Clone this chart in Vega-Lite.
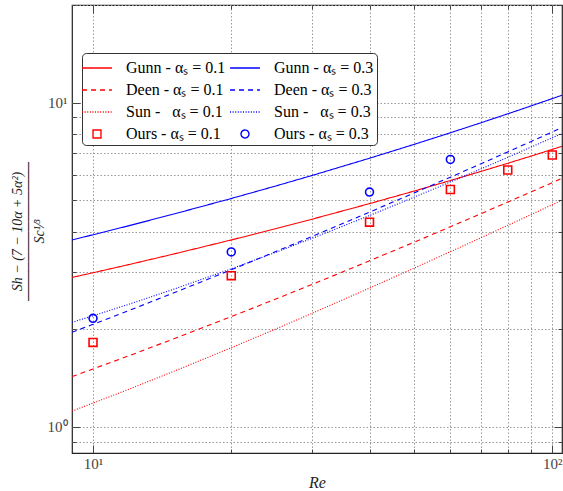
{
  "$schema": "https://vega.github.io/schema/vega-lite/v6.json",
  "width": 490,
  "height": 448,
  "autosize": {"type": "none"},
  "padding": {"left": 72, "top": 5, "right": 1, "bottom": 38},
  "background": "#ffffff",
  "config": {
    "view": {"stroke": "#222", "strokeWidth": 1.2},
    "font": "Liberation Serif",
    "legend": {
      "orient": "none", "legendX": 10, "legendY": 48, "columns": 2,
      "symbolSize": 484, "symbolStrokeWidth": 1.4,
      "labelFont": "Liberation Serif", "labelFontSize": 16, "labelColor": "#000",
      "labelOffset": 17, "columnPadding": 1, "rowPadding": 2, "padding": 3,
      "strokeColor": "#333", "fillColor": "#fff", "cornerRadius": 4, "labelLimit": 250
    }
  },
  "datasets": {
    "curves": [
      {"s":"Gunn - αₛ = 0.1","Re":9,"v":2.888},{"s":"Gunn - αₛ = 0.1","Re":10,"v":2.986},{"s":"Gunn - αₛ = 0.1","Re":12,"v":3.167},{"s":"Gunn - αₛ = 0.1","Re":15,"v":3.412},{"s":"Gunn - αₛ = 0.1","Re":20,"v":3.769},{"s":"Gunn - αₛ = 0.1","Re":25,"v":4.083},{"s":"Gunn - αₛ = 0.1","Re":30,"v":4.369},{"s":"Gunn - αₛ = 0.1","Re":40,"v":4.879},{"s":"Gunn - αₛ = 0.1","Re":50,"v":5.333},{"s":"Gunn - αₛ = 0.1","Re":60,"v":5.749},{"s":"Gunn - αₛ = 0.1","Re":70,"v":6.135},{"s":"Gunn - αₛ = 0.1","Re":80,"v":6.498},{"s":"Gunn - αₛ = 0.1","Re":90,"v":6.842},{"s":"Gunn - αₛ = 0.1","Re":100,"v":7.172},{"s":"Gunn - αₛ = 0.1","Re":105,"v":7.331},
      {"s":"Gunn - αₛ = 0.3","Re":9,"v":3.769},{"s":"Gunn - αₛ = 0.3","Re":10,"v":3.911},{"s":"Gunn - αₛ = 0.3","Re":12,"v":4.174},{"s":"Gunn - αₛ = 0.3","Re":15,"v":4.532},{"s":"Gunn - αₛ = 0.3","Re":20,"v":5.060},{"s":"Gunn - αₛ = 0.3","Re":25,"v":5.530},{"s":"Gunn - αₛ = 0.3","Re":30,"v":5.960},{"s":"Gunn - αₛ = 0.3","Re":40,"v":6.735},{"s":"Gunn - αₛ = 0.3","Re":50,"v":7.430},{"s":"Gunn - αₛ = 0.3","Re":60,"v":8.070},{"s":"Gunn - αₛ = 0.3","Re":70,"v":8.669},{"s":"Gunn - αₛ = 0.3","Re":80,"v":9.233},{"s":"Gunn - αₛ = 0.3","Re":90,"v":9.771},{"s":"Gunn - αₛ = 0.3","Re":100,"v":10.286},{"s":"Gunn - αₛ = 0.3","Re":105,"v":10.536},
      {"s":"Deen - αₛ = 0.1","Re":9,"v":1.428},{"s":"Deen - αₛ = 0.1","Re":10,"v":1.508},{"s":"Deen - αₛ = 0.1","Re":12,"v":1.658},{"s":"Deen - αₛ = 0.1","Re":15,"v":1.868},{"s":"Deen - αₛ = 0.1","Re":20,"v":2.186},{"s":"Deen - αₛ = 0.1","Re":25,"v":2.478},{"s":"Deen - αₛ = 0.1","Re":30,"v":2.749},{"s":"Deen - αₛ = 0.1","Re":40,"v":3.250},{"s":"Deen - αₛ = 0.1","Re":50,"v":3.709},{"s":"Deen - αₛ = 0.1","Re":60,"v":4.139},{"s":"Deen - αₛ = 0.1","Re":70,"v":4.545},{"s":"Deen - αₛ = 0.1","Re":80,"v":4.932},{"s":"Deen - αₛ = 0.1","Re":90,"v":5.304},{"s":"Deen - αₛ = 0.1","Re":100,"v":5.663},{"s":"Deen - αₛ = 0.1","Re":105,"v":5.838},
      {"s":"Deen - αₛ = 0.3","Re":9,"v":1.956},{"s":"Deen - αₛ = 0.3","Re":10,"v":2.070},{"s":"Deen - αₛ = 0.3","Re":12,"v":2.287},{"s":"Deen - αₛ = 0.3","Re":15,"v":2.589},{"s":"Deen - αₛ = 0.3","Re":20,"v":3.049},{"s":"Deen - αₛ = 0.3","Re":25,"v":3.471},{"s":"Deen - αₛ = 0.3","Re":30,"v":3.865},{"s":"Deen - αₛ = 0.3","Re":40,"v":4.593},{"s":"Deen - αₛ = 0.3","Re":50,"v":5.262},{"s":"Deen - αₛ = 0.3","Re":60,"v":5.888},{"s":"Deen - αₛ = 0.3","Re":70,"v":6.481},{"s":"Deen - αₛ = 0.3","Re":80,"v":7.046},{"s":"Deen - αₛ = 0.3","Re":90,"v":7.590},{"s":"Deen - αₛ = 0.3","Re":100,"v":8.115},{"s":"Deen - αₛ = 0.3","Re":105,"v":8.370},
      {"s":"Sun - \u00a0\u00a0αₛ = 0.1","Re":9,"v":1.118},{"s":"Sun - \u00a0\u00a0αₛ = 0.1","Re":10,"v":1.183},{"s":"Sun - \u00a0\u00a0αₛ = 0.1","Re":12,"v":1.307},{"s":"Sun - \u00a0\u00a0αₛ = 0.1","Re":15,"v":1.483},{"s":"Sun - \u00a0\u00a0αₛ = 0.1","Re":20,"v":1.753},{"s":"Sun - \u00a0\u00a0αₛ = 0.1","Re":25,"v":2.003},{"s":"Sun - \u00a0\u00a0αₛ = 0.1","Re":30,"v":2.239},{"s":"Sun - \u00a0\u00a0αₛ = 0.1","Re":40,"v":2.678},{"s":"Sun - \u00a0\u00a0αₛ = 0.1","Re":50,"v":3.085},{"s":"Sun - \u00a0\u00a0αₛ = 0.1","Re":60,"v":3.468},{"s":"Sun - \u00a0\u00a0αₛ = 0.1","Re":70,"v":3.832},{"s":"Sun - \u00a0\u00a0αₛ = 0.1","Re":80,"v":4.181},{"s":"Sun - \u00a0\u00a0αₛ = 0.1","Re":90,"v":4.517},{"s":"Sun - \u00a0\u00a0αₛ = 0.1","Re":100,"v":4.843},{"s":"Sun - \u00a0\u00a0αₛ = 0.1","Re":105,"v":5.001},
      {"s":"Sun - \u00a0\u00a0αₛ = 0.3","Re":9,"v":2.101},{"s":"Sun - \u00a0\u00a0αₛ = 0.3","Re":10,"v":2.200},{"s":"Sun - \u00a0\u00a0αₛ = 0.3","Re":12,"v":2.390},{"s":"Sun - \u00a0\u00a0αₛ = 0.3","Re":15,"v":2.658},{"s":"Sun - \u00a0\u00a0αₛ = 0.3","Re":20,"v":3.070},{"s":"Sun - \u00a0\u00a0αₛ = 0.3","Re":25,"v":3.453},{"s":"Sun - \u00a0\u00a0αₛ = 0.3","Re":30,"v":3.813},{"s":"Sun - \u00a0\u00a0αₛ = 0.3","Re":40,"v":4.484},{"s":"Sun - \u00a0\u00a0αₛ = 0.3","Re":50,"v":5.105},{"s":"Sun - \u00a0\u00a0αₛ = 0.3","Re":60,"v":5.691},{"s":"Sun - \u00a0\u00a0αₛ = 0.3","Re":70,"v":6.247},{"s":"Sun - \u00a0\u00a0αₛ = 0.3","Re":80,"v":6.780},{"s":"Sun - \u00a0\u00a0αₛ = 0.3","Re":90,"v":7.293},{"s":"Sun - \u00a0\u00a0αₛ = 0.3","Re":100,"v":7.790},{"s":"Sun - \u00a0\u00a0αₛ = 0.3","Re":105,"v":8.032}
    ],
    "ours": [
      {"s":"Ours - αₛ = 0.1","Re":10,"v":1.82},{"s":"Ours - αₛ = 0.1","Re":20,"v":2.925},{"s":"Ours - αₛ = 0.1","Re":40,"v":4.277},{"s":"Ours - αₛ = 0.1","Re":60,"v":5.395},{"s":"Ours - αₛ = 0.1","Re":80,"v":6.194},{"s":"Ours - αₛ = 0.1","Re":100,"v":6.89},
      {"s":"Ours - αₛ = 0.3","Re":10,"v":2.16},{"s":"Ours - αₛ = 0.3","Re":20,"v":3.462},{"s":"Ours - αₛ = 0.3","Re":40,"v":5.297},{"s":"Ours - αₛ = 0.3","Re":60,"v":6.68}
    ]
  },
  "layer": [
    {
      "data": {"name": "curves"},
      "mark": {"type": "line", "strokeWidth": 1.1, "clip": true},
      "encoding": {
        "x": {"field": "Re", "type": "quantitative",
          "scale": {"type": "log", "domain": [9, 105], "nice": false, "zero": false},
          "axis": {"orient": "bottom", "title": "Re", "titleFontStyle": "italic", "titleFont": "Liberation Serif", "titleFontSize": 16, "titleFontWeight": "normal", "titleColor": "#222", "titlePadding": 3,
            "values": [10,20,30,40,50,60,70,80,90,100],
            "labelExpr": "datum.value == 10 ? '10¹' : datum.value == 100 ? '10²' : ''",
            "labelFont": "Liberation Serif", "labelFontSize": 15, "labelColor": "#444", "labelPadding": 11,
            "domain": false, "grid": true, "gridColor": "#999", "gridDash": [1.5, 2], "gridWidth": 1,
            "tickColor": "#444", "tickSize": {"condition": {"test": "datum.value == 10 || datum.value == 100", "value": -8}, "value": -4}}},
        "y": {"field": "v", "type": "quantitative",
          "scale": {"type": "log", "domain": [0.83, 20], "nice": false, "zero": false},
          "axis": {"orient": "left", "title": ["Sh − (7 − 10α + 5α²)", "──────────────", "Sc¹⁄³"],
            "titleFontStyle": "italic", "titleFont": "Liberation Serif", "titleFontSize": 14, "titleFontWeight": "normal", "titleColor": "#222",
            "titleLineHeight": 11, "titleX": -55, "titleY": 226, "titleAlign": "center", "titleBaseline": "middle", "titleAngle": -90,
            "values": [0.9,1,2,3,4,5,6,7,8,9,10,20],
            "labelExpr": "datum.value == 1 ? '10⁰' : datum.value == 10 ? '10¹' : ''",
            "labelFont": "Liberation Serif", "labelFontSize": 15, "labelColor": "#444", "labelPadding": 13,
            "domain": false, "grid": true, "gridColor": "#999", "gridDash": [1.5, 2], "gridWidth": 1,
            "tickColor": "#444", "tickSize": {"condition": {"test": "datum.value == 1 || datum.value == 10", "value": -8}, "value": -4}}},
        "color": {"field": "s", "type": "nominal",
          "scale": {"domain": ["Gunn - αₛ = 0.1","Deen - αₛ = 0.1","Sun - \u00a0\u00a0αₛ = 0.1","Ours - αₛ = 0.1","Gunn - αₛ = 0.3","Deen - αₛ = 0.3","Sun - \u00a0\u00a0αₛ = 0.3","Ours - αₛ = 0.3"],
            "range": ["#ff0000","#ff0000","#ff0000","#ff0000","#0000ff","#0000ff","#0000ff","#0000ff"]},
          "legend": {"title": null}},
        "strokeDash": {"field": "s", "type": "nominal",
          "scale": {"domain": ["Gunn - αₛ = 0.1","Deen - αₛ = 0.1","Sun - \u00a0\u00a0αₛ = 0.1","Ours - αₛ = 0.1","Gunn - αₛ = 0.3","Deen - αₛ = 0.3","Sun - \u00a0\u00a0αₛ = 0.3","Ours - αₛ = 0.3"],
            "range": [[1,0],[5,4],[1,1.6],[1,0],[1,0],[5,4],[1,1.6],[1,0]]},
          "legend": {"title": null}}
      }
    },
    {
      "data": {"name": "ours"},
      "mark": {"type": "point", "filled": false, "strokeWidth": 1.6, "size": 484, "opacity": 1, "clip": true},
      "encoding": {
        "x": {"field": "Re", "type": "quantitative",
          "scale": {"type": "log", "domain": [9, 105], "nice": false, "zero": false},
          "axis": {"orient": "top", "title": null, "labels": false, "grid": false, "domain": false,
            "values": [10,20,30,40,50,60,70,80,90,100], "tickColor": "#444",
            "tickSize": {"condition": {"test": "datum.value == 10 || datum.value == 100", "value": -8}, "value": -4}}},
        "y": {"field": "v", "type": "quantitative",
          "scale": {"type": "log", "domain": [0.83, 20], "nice": false, "zero": false},
          "axis": {"orient": "right", "title": null, "labels": false, "grid": false, "domain": false,
            "values": [0.9,1,2,3,4,5,6,7,8,9,10,20], "tickColor": "#444",
            "tickSize": {"condition": {"test": "datum.value == 1 || datum.value == 10", "value": -8}, "value": -4}}},
        "color": {"field": "s", "type": "nominal", "legend": {"title": null}},
        "shape": {"field": "s", "type": "nominal",
          "scale": {"domain": ["Gunn - αₛ = 0.1","Deen - αₛ = 0.1","Sun - \u00a0\u00a0αₛ = 0.1","Ours - αₛ = 0.1","Gunn - αₛ = 0.3","Deen - αₛ = 0.3","Sun - \u00a0\u00a0αₛ = 0.3","Ours - αₛ = 0.3"],
            "range": ["M-1.36,0H1.36","M-1.36,0H1.36","M-1.36,0H1.36","M-0.36,-0.36H0.36V0.36H-0.36Z","M-1.36,0H1.36","M-1.36,0H1.36","M-1.36,0H1.36","M0.36,0A0.36,0.36 0 1,1 -0.36,0A0.36,0.36 0 1,1 0.36,0Z"]},
          "legend": {"title": null}}
      }
    }
  ],
  "resolve": {"axis": {"x": "independent", "y": "independent"}}
}
